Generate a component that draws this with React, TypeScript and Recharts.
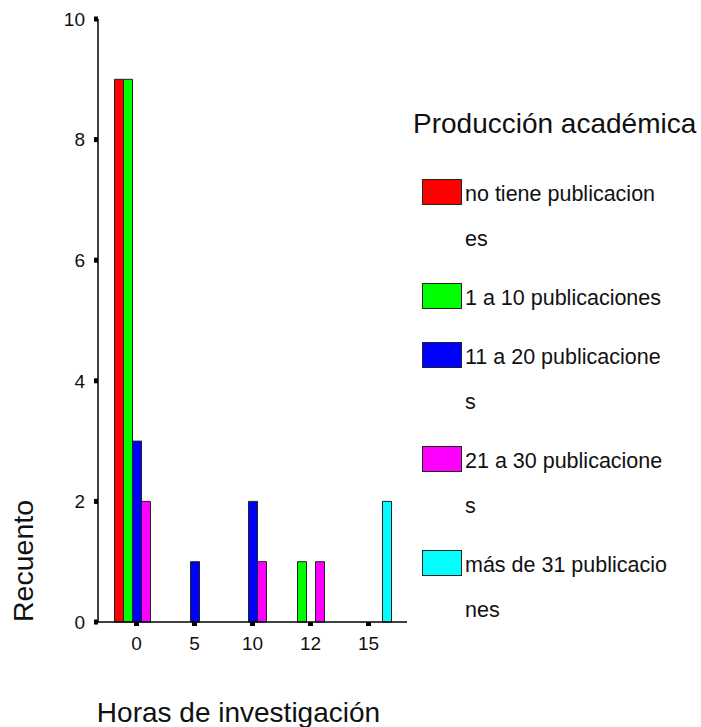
import { Bar, BarChart, Legend, XAxis, YAxis } from "recharts";

const HOURS = ["0", "5", "10", "12", "15"];
const SERIES_NAMES = [
  "no tiene publicaciones",
  "1 a 10 publicaciones",
  "11 a 20 publicaciones",
  "21 a 30 publicaciones",
  "más de 31 publicaciones",
];
const NO_TIENE = [9, 0, 0, 0, 0];
const DE_1_A_10 = [9, 0, 0, 1, 0];
const DE_11_A_20 = [3, 1, 2, 0, 0];
const DE_21_A_30 = [2, 0, 1, 1, 0];
const MAS_DE_31 = [0, 0, 0, 0, 2];
const Y_TICKS = [0, 2, 4, 6, 8, 10];

const COLORS = ["#FF0000", "#00FF00", "#0000FF", "#FF00FF", "#00FFFF"];
const FONT = "'Liberation Sans', Arial, sans-serif";
const SERIES = [NO_TIENE, DE_1_A_10, DE_11_A_20, DE_21_A_30, MAS_DE_31];

const data = HOURS.map((hours, i) => {
  const row: Record<string, string | number> = { hours };
  SERIES.forEach((values, s) => {
    row[`s${s}`] = values[i];
  });
  return row;
});

// SPSS cuts legend labels every 20 characters
function chunk(text: string, size = 20) {
  const out: string[] = [];
  for (let i = 0; i < text.length; i += size) out.push(text.slice(i, i + size));
  return out;
}

function renderLegend(props: any) {
  const payload = props.payload ?? [];
  return (
    <div style={{ fontFamily: FONT, color: "#111" }}>
      <div style={{ fontSize: 28, lineHeight: "30px", whiteSpace: "nowrap" }}>
        Producción académica
      </div>
      <div style={{ marginTop: 33 }}>
        {payload.map((entry: any) => (
          <div key={entry.value} style={{ display: "flex", marginBottom: 14 }}>
            <div
              style={{
                width: 40,
                height: 26,
                marginTop: 7,
                marginLeft: 9,
                background: entry.color,
                border: "1px solid #222",
                boxSizing: "border-box",
                flexShrink: 0,
              }}
            />
            <div style={{ marginLeft: 3, fontSize: 21.5, lineHeight: "45px" }}>
              {chunk(String(entry.value)).map((line, k) => (
                <div key={k} style={{ whiteSpace: "nowrap" }}>
                  {line}
                </div>
              ))}
            </div>
          </div>
        ))}
      </div>
    </div>
  );
}

export default function App() {
  return (
    <div style={{ position: "absolute", left: 0, top: 0, background: "#fff" }}>
      <BarChart
        width={701}
        height={727}
        data={data}
        barGap={0}
        barSize={9}
        margin={{ top: 19, right: 294, bottom: 0, left: 0 }}
      >
        <XAxis
          dataKey="hours"
          height={105}
          padding={{ left: 9.5, right: 9.5 }}
          axisLine={{ stroke: "#000", strokeWidth: 1.5 }}
          tickLine={{ stroke: "#000", strokeWidth: 5 }}
          tickSize={4}
          tickMargin={11}
          tick={{ fontSize: 19, fill: "#111", fontFamily: FONT }}
          label={{
            content: ({ viewBox }: any) => (
              <text
                x={viewBox.x + viewBox.width / 2 - 14}
                y={viewBox.y + 100}
                textAnchor="middle"
                fontSize={28}
                fontFamily={FONT}
                fill="#111"
              >
                Horas de investigación
              </text>
            ),
          }}
        />
        <XAxis
          xAxisId="top"
          dataKey="hours"
          orientation="top"
          height={0}
          tick={false}
          tickLine={false}
          axisLine={{ stroke: "#000", strokeWidth: 1.5 }}
        />
        <YAxis
          type="number"
          domain={[0, 10]}
          ticks={Y_TICKS}
          width={98}
          axisLine={{ stroke: "#000", strokeWidth: 1.5 }}
          tickLine={{ stroke: "#000", strokeWidth: 5 }}
          tickSize={4}
          tickMargin={9}
          tick={{ fontSize: 19, fill: "#111", fontFamily: FONT }}
          label={{
            content: ({ viewBox }: any) => (
              <text
                x={33}
                y={viewBox.y + viewBox.height}
                transform={`rotate(-90, 33, ${viewBox.y + viewBox.height})`}
                textAnchor="start"
                fontSize={28.5}
                fontFamily={FONT}
                fill="#111"
              >
                Recuento
              </text>
            ),
          }}
        />
        <YAxis
          yAxisId="right"
          orientation="right"
          type="number"
          domain={[0, 10]}
          width={0}
          tick={false}
          tickLine={false}
          axisLine={{ stroke: "#000", strokeWidth: 1.5 }}
        />
        <Legend
          layout="vertical"
          align="center"
          verticalAlign="middle"
          itemSorter="dataKey"
          content={renderLegend}
          wrapperStyle={{ left: 413, top: 109, width: 288, height: "auto" }}
        />
        {SERIES_NAMES.map((name, s) => (
          <Bar
            key={name}
            dataKey={`s${s}`}
            name={name}
            fill={COLORS[s]}
            stroke="#222"
            strokeWidth={1}
            isAnimationActive={false}
          />
        ))}
      </BarChart>
    </div>
  );
}
